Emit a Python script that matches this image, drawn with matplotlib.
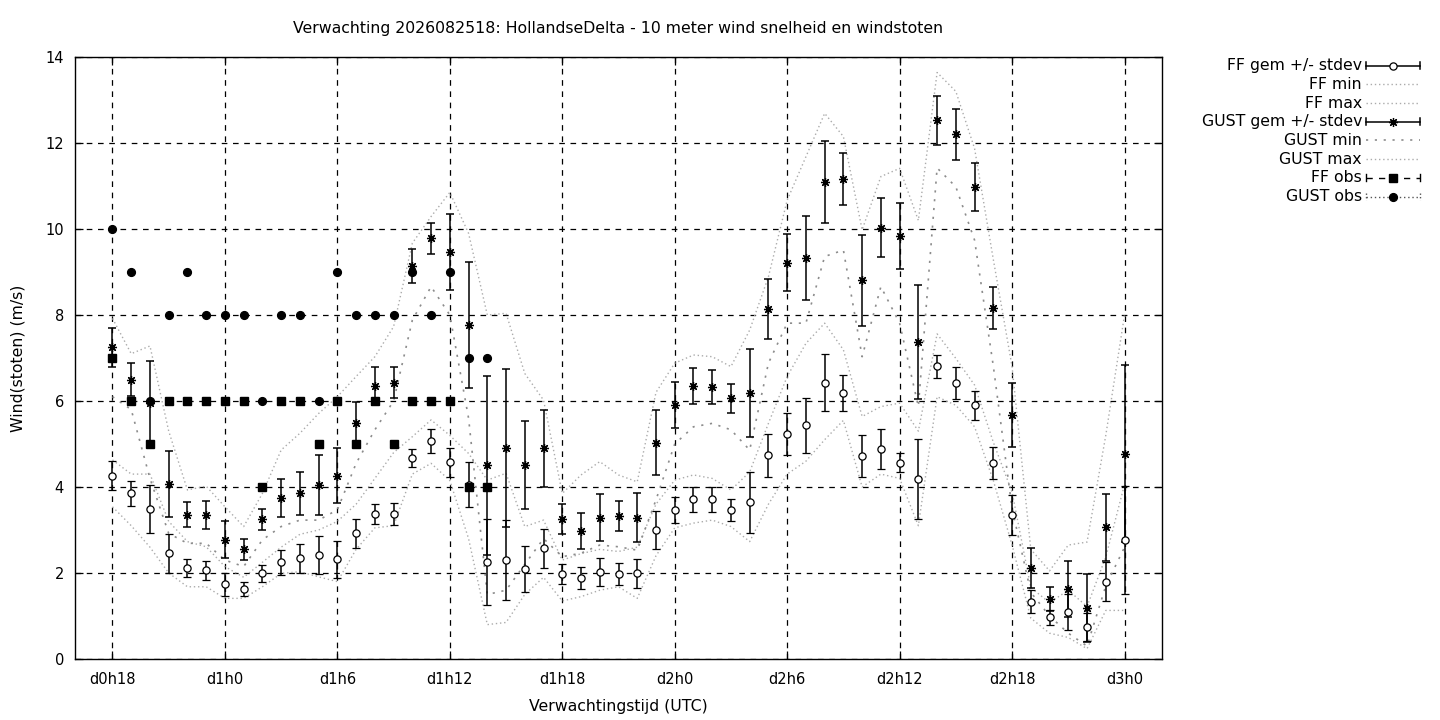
import numpy as np
import matplotlib
matplotlib.use("Agg")
import matplotlib.pyplot as plt
from matplotlib.lines import Line2D

# ---------------- data ----------------
hours = list(range(18, 73))
tick_hours = [18, 24, 30, 36, 42, 48, 54, 60, 66, 72]
tick_labels = ['d0h18', 'd1h0', 'd1h6', 'd1h12', 'd1h18', 'd2h0',
               'd2h6', 'd2h12', 'd2h18', 'd3h0']
y_ticks = [0, 2, 4, 6, 8, 10, 12, 14]

ff_mean = [4.26, 3.85, 3.48, 2.46, 2.11, 2.06, 1.74, 1.62, 1.99, 2.25,
           2.34, 2.41, 2.32, 2.92, 3.37, 3.37, 4.67, 5.07, 4.57, 4.05,
           2.25, 2.30, 2.09, 2.57, 1.97, 1.88, 2.02, 1.97, 1.99, 3.00,
           3.47, 3.72, 3.72, 3.47, 3.64, 4.74, 5.23, 5.44, 6.43, 6.18,
           4.72, 4.88, 4.56, 4.19, 6.81, 6.41, 5.90, 4.56, 3.35, 1.33,
           0.97, 1.09, 0.75, 1.80, 2.77]
ff_sd = [0.34, 0.30, 0.56, 0.45, 0.21, 0.22, 0.27, 0.16, 0.20, 0.29,
         0.34, 0.44, 0.43, 0.34, 0.24, 0.26, 0.21, 0.27, 0.33, 0.52,
         1.00, 0.93, 0.53, 0.45, 0.23, 0.26, 0.33, 0.26, 0.34, 0.45,
         0.30, 0.29, 0.29, 0.25, 0.70, 0.50, 0.49, 0.64, 0.66, 0.42,
         0.48, 0.47, 0.22, 0.93, 0.27, 0.37, 0.34, 0.38, 0.47, 0.27,
         0.17, 0.42, 0.32, 0.45, 1.26]
ff_min = [3.54, 3.10, 2.60, 2.00, 1.68, 1.68, 1.41, 1.41, 1.68, 1.99,
          2.03, 1.91, 1.80, 2.55, 3.05, 3.10, 4.30, 4.55, 4.15, 2.80,
          0.80, 0.85, 1.50, 1.90, 1.35, 1.45, 1.60, 1.68, 1.41, 2.40,
          3.05, 3.16, 3.23, 3.08, 2.73, 3.60, 4.30, 4.60, 5.10, 5.55,
          4.00, 4.30, 4.20, 3.10, 6.10, 5.90, 5.40, 4.15, 2.65, 0.95,
          0.60, 0.50, 0.24, 1.13, 1.13]
ff_max = [4.63, 4.30, 4.30, 3.20, 2.73, 2.61, 2.15, 1.90, 2.25, 2.60,
          2.90, 3.00, 3.20, 3.60, 4.20, 4.80, 5.17, 5.56, 5.20, 4.78,
          4.16, 4.32, 3.08, 3.23, 2.30, 2.45, 2.55, 2.50, 2.60, 3.60,
          4.16, 4.28, 4.20, 3.93, 4.35, 5.48, 6.57, 7.34, 7.81, 7.19,
          5.64, 5.87, 5.95, 5.30, 7.56, 6.99, 6.37, 5.04, 3.88, 1.66,
          1.31, 1.60, 1.22, 2.37, 4.06]
gust_mean = [7.25, 6.50, 5.96, 4.07, 3.35, 3.35, 2.77, 2.55, 3.25, 3.74,
             3.85, 4.05, 4.26, 5.48, 6.35, 6.43, 9.14, 9.78, 9.47, 7.77,
             4.51, 4.90, 4.51, 4.90, 3.25, 2.98, 3.29, 3.33, 3.29, 5.03,
             5.91, 6.35, 6.33, 6.06, 6.19, 8.14, 9.22, 9.32, 11.09, 11.16,
             8.81, 10.03, 9.84, 7.37, 12.53, 12.20, 10.98, 8.16, 5.67, 2.11,
             1.40, 1.62, 1.19, 3.06, 4.77]
gust_sd = [0.45, 0.38, 0.96, 0.76, 0.29, 0.33, 0.43, 0.24, 0.25, 0.44,
           0.50, 0.69, 0.64, 0.50, 0.45, 0.37, 0.40, 0.35, 0.88, 1.47,
           2.08, 1.84, 1.02, 0.90, 0.35, 0.42, 0.55, 0.35, 0.57, 0.75,
           0.54, 0.42, 0.39, 0.34, 1.02, 0.69, 0.66, 0.98, 0.96, 0.61,
           1.06, 0.69, 0.77, 1.32, 0.57, 0.60, 0.55, 0.48, 0.74, 0.46,
           0.28, 0.65, 0.79, 0.78, 2.06]
gust_min = [6.10, 5.80, 4.20, 2.92, 2.69, 2.69, 2.30, 2.15, 2.77, 3.08,
            3.23, 3.23, 3.47, 4.55, 5.33, 6.00, 7.88, 8.66, 8.00, 5.60,
            1.50, 1.60, 2.20, 2.80, 2.38, 2.46, 2.65, 2.61, 2.53, 3.70,
            5.00, 5.40, 5.48, 5.33, 4.86, 6.88, 7.81, 7.81, 9.36, 9.51,
            7.03, 8.66, 7.81, 5.87, 11.42, 10.98, 9.74, 6.81, 3.50, 1.55,
            1.00, 0.60, 0.30, 1.70, 2.60]
gust_max = [7.92, 7.10, 7.28, 5.30, 3.93, 4.02, 3.54, 3.08, 3.85, 4.86,
            5.25, 5.71, 6.10, 6.57, 7.03, 7.73, 9.67, 10.29, 10.85, 9.90,
            8.00, 8.04, 6.64, 6.02, 3.85, 4.28, 4.59, 4.28, 4.12, 6.20,
            6.88, 7.07, 7.03, 6.80, 7.65, 8.89, 10.67, 11.68, 12.69, 12.15,
            9.98, 11.22, 11.41, 10.20, 13.64, 13.20, 11.87, 9.29, 6.80, 2.55,
            2.05, 2.65, 2.72, 5.20, 8.00]

obs_hours = list(range(18, 39))
ff_obs = [7, 6, 5, 6, 6, 6, 6, 6, 4, 6, 6, 5, 6, 5, 6, 5, 6, 6, 6, 4, 4]
gust_obs = [10, 9, 6, 8, 9, 8, 8, 8, 6, 8, 8, 6, 9, 8, 8, 8, 9, 8, 9, 7, 7]

legend_labels = ['FF gem +/- stdev', 'FF min', 'FF max', 'GUST gem +/- stdev',
                 'GUST min', 'GUST max', 'FF obs', 'GUST obs']

# ---------------- style ----------------
W, H = 1440, 720
FS_TICK = 10.5
FS = 11.3
plt.rcParams['font.family'] = ['DejaVu Sans']
light = '#ababab'
darker = '#8c8c8c'
fine_dot = (0, (1, 2))
sparse_dot = (0, (1.3, 4))
asterisk = (8, 2, 0)

fig = plt.figure(figsize=(W / 100, H / 100), dpi=100)
fig.patch.set_facecolor('white')
L, R, T, B = 75, 1162, 57, 659
ax = fig.add_axes([L / W, 1 - B / H, (R - L) / W, (B - T) / H])

# FF mean +/- stdev
ax.errorbar(hours, ff_mean, yerr=ff_sd, fmt='o', color='black', ecolor='black',
            mfc='white', mec='black', ms=5.2, mew=0.9, elinewidth=1.1,
            capsize=2.7, capthick=1.1, zorder=4)
ax.plot(hours, ff_min, color=light, lw=1.0, ls=fine_dot, zorder=3)
ax.plot(hours, ff_max, color=light, lw=1.0, ls=fine_dot, zorder=3)
# GUST mean +/- stdev
ax.errorbar(hours, gust_mean, yerr=gust_sd, fmt='none', ecolor='black',
            elinewidth=1.1, capsize=2.7, capthick=1.1, zorder=4)
ax.plot(hours, gust_mean, ls='none', marker=asterisk, ms=6.5, mew=0.9,
        color='black', zorder=5)
ax.plot(hours, gust_min, color=darker, lw=1.2, ls=sparse_dot, zorder=3)
ax.plot(hours, gust_max, color=light, lw=1.0, ls=fine_dot, zorder=3)
# observations
ax.plot(obs_hours, ff_obs, ls='none', marker='s', ms=5.2, color='black', zorder=6)
ax.plot(obs_hours, gust_obs, ls='none', marker='o', ms=5.6, color='black', zorder=6)

ax.set_xlim(16, 74)
ax.set_ylim(0, 14)
ax.set_xticks(tick_hours)
ax.set_xticklabels(tick_labels)
ax.set_yticks(y_ticks)
ax.grid(True, color='black', lw=0.9, ls=(0, (4.5, 4.5)))
ax.tick_params(direction='in', length=6, width=0.9, top=True, right=True,
               labelsize=FS_TICK, colors='black')
ax.tick_params(axis='y', pad=8)
ax.tick_params(axis='x', pad=9)
for s in ax.spines.values():
    s.set_linewidth(1.0)
    s.set_color('black')

fig.text(618.5 / W, 1 - 29 / H,
         'Verwachting 2026082518: HollandseDelta - 10 meter wind snelheid en windstoten',
         ha='center', va='center', fontsize=FS)
fig.text(18 / W, 1 - 358 / H, 'Wind(stoten) (m/s)', rotation=90,
         ha='center', va='center', fontsize=FS)
fig.text(618.5 / W, 1 - 706 / H, 'Verwachtingstijd (UTC)',
         ha='center', va='center', fontsize=FS)

# ---------------- legend (drawn in pixel space) ----------------
lg = fig.add_axes([0, 0, 1, 1], facecolor='none')
lg.set_xlim(0, W)
lg.set_ylim(H, 0)
lg.axis('off')
row_y = [65.5, 84.3, 103.0, 121.7, 140.4, 159.1, 177.8, 196.5]
tx, x0, x1 = 1362, 1366, 1420
xm = (x0 + x1) / 2
cap = 3.5
for lab, y in zip(legend_labels, row_y):
    lg.text(tx, y, lab, ha='right', va='center', fontsize=FS)


def caps(y, **kw):
    lg.add_line(Line2D([x0, x0], [y - cap, y + cap], **kw))
    lg.add_line(Line2D([x1, x1], [y - cap, y + cap], **kw))


# FF gem
y = row_y[0]
lg.add_line(Line2D([x0, x1], [y, y], color='black', lw=1.1))
caps(y, color='black', lw=1.1)
lg.add_line(Line2D([xm], [y], ls='none', marker='o', ms=5.2, mfc='white',
                   mec='black', mew=0.9))
lg.add_line(Line2D([x0, x1], [row_y[1]] * 2, color=light, lw=1.0, ls=fine_dot))
lg.add_line(Line2D([x0, x1], [row_y[2]] * 2, color=light, lw=1.0, ls=fine_dot))
# GUST gem
y = row_y[3]
lg.add_line(Line2D([x0, x1], [y, y], color='black', lw=1.1))
caps(y, color='black', lw=1.1)
lg.add_line(Line2D([xm], [y], ls='none', marker=asterisk, ms=6.5, mew=0.9,
                   color='black'))
lg.add_line(Line2D([x0, x1], [row_y[4]] * 2, color=darker, lw=1.2, ls=sparse_dot))
lg.add_line(Line2D([x0, x1], [row_y[5]] * 2, color=light, lw=1.0, ls=fine_dot))
# FF obs
y = row_y[6]
lg.add_line(Line2D([x0, x1], [y, y], color='black', lw=1.0, ls=(0, (4.5, 4.5))))
caps(y, color='black', lw=1.0)
lg.add_line(Line2D([xm], [y], ls='none', marker='s', ms=5.2, color='black'))
# GUST obs
y = row_y[7]
lg.add_line(Line2D([x0, x1], [y, y], color='#555555', lw=1.0, ls=(0, (1, 2))))
caps(y, color='#555555', lw=1.0, ls=(0, (1, 1.5)))
lg.add_line(Line2D([xm], [y], ls='none', marker='o', ms=5.6, color='black'))

fig.savefig('out.png', dpi=100, facecolor='white')
